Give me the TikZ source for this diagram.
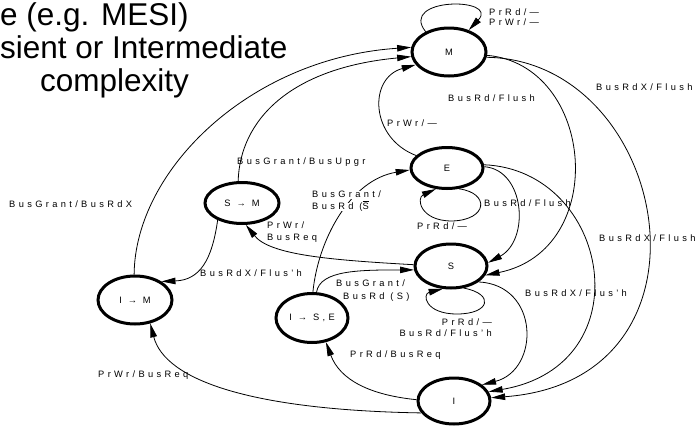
\documentclass[tikz,border=0pt]{standalone}
\usepackage{fontspec}
\setmainfont{Liberation Sans}
\newfontfamily\lblfont[LetterSpace=36]{Liberation Sans}
\usetikzlibrary{arrows.meta,shapes.geometric}

\begin{document}
\begin{tikzpicture}[x=1pt,y=-1pt,
  state/.style={ellipse, draw, line width=3pt, inner sep=0pt,
    font=\lblfont\fontsize{9.3}{10}\selectfont},
  edge/.style={draw, line width=0.8pt, -{Triangle[length=14pt,width=6.5pt]}},
  lbl/.style={inner sep=0pt, anchor=west, text height=6.5pt, text depth=1.6pt,
    font=\lblfont\fontsize{9.3}{10}\selectfont},
  title/.style={inner sep=0pt, anchor=base west, font=\fontsize{31.5}{33}\selectfont}]
\useasboundingbox (0,0) rectangle (699,426);

% heading lines
\node[title] (t1) at (0,25) {e (e.g. MESI)};
\node[title] (t2) at (0,58) {sient or Intermediate};
\node[title] (t3) at (40,91) {complexity};

% states
\node[state, minimum width=74pt, minimum height=48pt] (M) at (449,52) {M};
\node[state, minimum width=72pt, minimum height=41pt] (E) at (447,168) {E};
\node[state, minimum width=72pt, minimum height=44pt] (S) at (451,266) {S};
\node[state, minimum width=72pt, minimum height=46pt] (I) at (454,401) {I};
\node[state, minimum width=74pt, minimum height=41pt] (SM) at (242,203) {S → M};
\node[state, minimum width=74pt, minimum height=48pt] (IM) at (135,300) {I → M};
\node[state, minimum width=72pt, minimum height=49pt] (ISE) at (312,318) {I → S,E};

% transitions
\draw[edge] (M.139) .. controls (398,-3) and (500,-3) .. (M.48);
\draw[edge] (IM.92) .. controls (135,170) and (250,58) .. (M.173);
\draw[edge] (SM.100) .. controls (240,120) and (290,68) .. (M.187);
\draw[edge] (E.158) .. controls (370,138) and (368,78) .. (M.201);
\draw[edge] (M.-5) .. controls (595,65) and (610,250) .. (S.-15);
\draw[edge] (M.-8) .. controls (670,60) and (730,380) .. (I.5);
\draw[edge] (E.2) .. controls (525,170) and (530,240) .. (S.5);
\draw[edge] (E.5) .. controls (610,170) and (645,365) .. (I.15);
\draw[edge] (S.-30) .. controls (540,285) and (540,370) .. (I.30);
\draw[edge] (E.-60) .. controls (490,193) and (488,220) .. (452,221)
  .. controls (420,221) and (416,198) .. (E.-118);
\draw[edge] (S.-60) .. controls (495,294) and (490,314) .. (457,314)
  .. controls (425,314) and (422,294) .. (S.-110);
\draw[edge] (S.178) .. controls (330,260) and (270,255) .. (SM.-80);
\draw[edge] (ISE.88) .. controls (318,240) and (350,180) .. (E.183);
\draw[edge] (ISE.80) .. controls (320,270) and (360,270) .. (S.-174);
\draw[edge] (I.178) .. controls (370,395) and (340,380) .. (ISE.-60);
\draw[edge] (I.200) .. controls (250,410) and (165,380) .. (IM.-57);
\draw[edge] (SM.215) .. controls (212,260) and (200,280) .. (IM.35);

% transition labels
\node[lbl] (lMa) at (489,13) {PrRd/—};
\node[lbl] (lMb) at (489,23) {PrWr/—};
\node[lbl] (lMI) at (596,88) {BusRdX/Flush};
\node[lbl] (lMS) at (448,99) {BusRd/Flush};
\node[lbl] (lEM) at (387,124) {PrWr/—};
\node[lbl] (lES) at (484,204) {BusRd/Flush};
\node[lbl] (lEE) at (417,227) {PrRd/—};
\node[lbl] (lEI) at (599,239) {BusRdX/Flush};
\node[lbl] (lSI) at (525,294) {BusRdX/Flus’h};
\node[lbl, anchor=east] (lSSa) at (492,323) {PrRd/—};
\node[lbl, anchor=east] (lSSb) at (492,334) {BusRd/Flus’h};
\node[lbl] (lIISE) at (350,355) {PrRd/BusReq};
\node[lbl] (lIIM) at (98,375) {PrWr/BusReq};
\node[lbl] (lIMM) at (9,205) {BusGrant/BusRdX};
\node[lbl] (lSMM) at (237,162) {BusGrant/BusUpgr};
\node[lbl] (lSSMa) at (267,226) {PrWr/};
\node[lbl] (lSSMb) at (267,238) {BusReq};
\node[lbl] (lSMIM) at (200,274) {BusRdX/Flus’h};
\node[lbl, fill=white] (lISEEa) at (312,195) {BusGrant/};
\node[lbl, fill=white] (lISEEb) at (312,207) {BusRd ($\overline{\mbox{S}}$};
\node[lbl] (lISESa) at (336,284) {BusGrant/};
\node[lbl] (lISESb) at (343,297) {BusRd (S)};
\end{tikzpicture}
\end{document}
